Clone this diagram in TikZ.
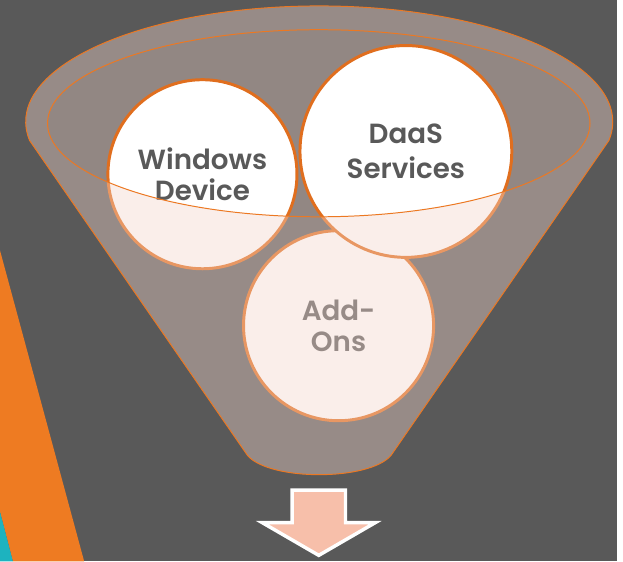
\documentclass[tikz,border=0pt]{standalone}
\usepackage{fontspec}
\setmainfont{Poppins}[BoldFont={Poppins SemiBold}]

\definecolor{bggray}{RGB}{89,89,89}
\definecolor{stripeorange}{RGB}{238,123,34}
\definecolor{stripeteal}{RGB}{29,179,191}
\definecolor{lineorange}{RGB}{236,120,34}
\definecolor{ringorange}{RGB}{224,110,30}
\definecolor{hazepink}{RGB}{244,214,204}
\definecolor{textgray}{RGB}{89,89,89}
\definecolor{arrowpink}{RGB}{247,191,170}

\begin{document}
\begin{tikzpicture}[x=1pt, y=-1pt,
    bubble/.style={circle, draw=ringorange, line width=3pt, fill=white, inner sep=0pt,
      text=textgray, font=\bfseries\fontsize{28}{31}\selectfont, align=center},
    haze/.style={fill=hazepink, fill opacity=0.4}]

    % Фон
    \fill[bggray] (0,0) rectangle (623,567);
    \fill[stripeorange] (0,253) -- (85,567) -- (13,567) -- (0,517) -- cycle;
    \fill[stripeteal] (0,517) -- (13,567) -- (0,567) -- cycle;

    % Воронка изнутри
    \fill[haze, fill opacity=0.37] (322,124.5) ellipse [x radius=274, y radius=94.5];

    % Круги
    \node[bubble, minimum size=192pt] (addons) at (342,329) {Add-\\Ons};
    \node[bubble, minimum size=191pt] (win) at (204.5,176) {Windows\\Device};
    \node[bubble, minimum size=214pt, font=\bfseries\fontsize{28}{35}\selectfont]
      (daas) at (410,153) {DaaS\\Services};

    % Передняя стенка воронки
    \filldraw[haze, draw=lineorange, line width=1pt, even odd rule]
      (29.9,141.9) arc [start angle=170.7, end angle=369.3, x radius=296.5, y radius=117]
      -- (395,460) .. controls (373,486) and (272,486) .. (250,460) -- cycle
      (322,124.5) ellipse [x radius=274, y radius=94.5];

    % Стрелка
    \filldraw[fill=arrowpink, draw=white, line width=3.5pt]
      (295,495) -- (349,495) -- (349,528) -- (379,528) -- (322,561)
      -- (265,528) -- (295,528) -- cycle;

\end{tikzpicture}
\end{document}
